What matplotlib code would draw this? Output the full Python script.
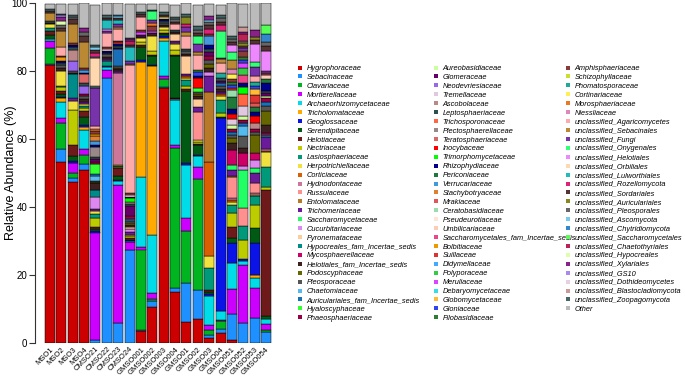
import numpy as np
import matplotlib
matplotlib.use("Agg")
import matplotlib.pyplot as plt
from matplotlib.lines import Line2D

plt.rcParams['font.family'] = ['Liberation Sans', 'DejaVu Sans']

samples = ['MSO1', 'MSO2', 'MSO3', 'MSO4', 'CMSO21', 'CMSO22', 'CMSO23', 'CMSO24',
           'GMSO001', 'GMSO002', 'GMSO003', 'GMSO004', 'GMSO01', 'GMSO02', 'GMSO03', 'GMSO04',
           'GMSO051', 'GMSO052', 'GMSO053', 'GMSO054']

taxa = ['Hygrophoraceae', 'Sebacinaceae', 'Clavariaceae', 'Mortierellaceae', 'Archaeorhizomycetaceae',
        'Tricholomataceae', 'Geoglossaceae', 'Serendipitaceae', 'Helotiaceae', 'Nectriaceae',
        'Lasiosphaeriaceae', 'Herpotrichiellaceae', 'Corticiaceae', 'Hydnodontaceae', 'Russulaceae',
        'Entolomataceae', 'Trichomeriaceae', 'Saccharomycetaceae', 'Cucurbitariaceae', 'Pyronemataceae',
        'Hypocreales_fam_Incertae_sedis', 'Mycosphaerellaceae', 'Helotiales_fam_Incertae_sedis',
        'Podoscyphaceae', 'Pleosporaceae', 'Chaetomiaceae', 'Auriculariales_fam_Incertae_sedis',
        'Hyaloscyphaceae', 'Phaeosphaeriaceae',
        'Aureobasidiaceae', 'Glomeraceae', 'Neodevriesiaceae', 'Tremellaceae', 'Ascobolaceae',
        'Leptosphaeriaceae', 'Trichosporonaceae', 'Plectosphaerellaceae', 'Teratosphaeriaceae',
        'Inocybaceae', 'Trimorphomycetaceae', 'Rhizophydiaceae', 'Periconiaceae', 'Verrucariaceae',
        'Stachybotryaceae', 'Mrakiaceae', 'Ceratobasidiaceae', 'Pseudeurotiaceae', 'Umbilicariaceae',
        'Saccharomycetales_fam_Incertae_sedis', 'Bolbitiaceae', 'Suillaceae', 'Didymellaceae',
        'Polyporaceae', 'Meruliaceae', 'Debaryomycetaceae', 'Globomycetaceae', 'Gloniaceae',
        'Filobasidiaceae',
        'Amphisphaeriaceae', 'Schizophyllaceae', 'Phomatosporaceae', 'Cortinariaceae',
        'Morosphaeriaceae', 'Niessliaceae', 'unclassified_Agaricomycetes', 'unclassified_Sebacinales',
        'unclassified_Fungi', 'unclassified_Onygenales', 'unclassified_Helotiales',
        'unclassified_Orbiliales', 'unclassified_Lulworthiales', 'unclassified_Rozellomycota',
        'unclassified_Sordariales', 'unclassified_Auriculariales', 'unclassified_Pleosporales',
        'unclassified_Ascomycota', 'unclassified_Chytridiomycota', 'unclassified_Saccharomycetales',
        'unclassified_Chaetothyriales', 'unclassified_Hypocreales', 'unclassified_Xylariales',
        'unclassified_GS10', 'unclassified_Dothideomycetes', 'unclassified_Blastocladiomycota',
        'unclassified_Zoopagomycota', 'Other']

palette = ['#CC0000', '#1E90FF', '#00B520', '#CC00FF', '#00DDE8', '#FFAA00', '#0A14E6', '#005A14',
           '#6E1A1A', '#BCCC00', '#00997A', '#F0E040', '#D95F02', '#CC7799', '#FF9090', '#B87A2A',
           '#6A1B9A', '#22FF66', '#DD88EE', '#FFCC99', '#008B8B', '#CC0066', '#3D2020', '#666600',
           '#555555', '#55BBEE', '#1A70B8', '#33FF33', '#990044',
           '#CCFF99', '#660066', '#9966EE', '#E0C8E0', '#BB8888', '#2F4F4F', '#FF6644', '#998888',
           '#DD6666', '#FF0000', '#00FF00', '#000088', '#1F7A3A', '#4499DD', '#E08030', '#E05555',
           '#99DDAA', '#FFE4D8', '#FFCBB8', '#EE4488', '#EE9900', '#DD3333', '#44AAFF', '#33CC44',
           '#DD44FF', '#33DDEE', '#FFBB33', '#3344EE', '#2E7D32',
           '#8B3A3A', '#CCDD33', '#22AA99', '#FFEE55', '#EE7722', '#DD88BB', '#FFAAAA', '#BB8833',
           '#7733AA', '#33FF77', '#EE88FF', '#FFD8B0', '#22BBBB', '#DD2277', '#553333', '#888822',
           '#666666', '#77CCEE', '#3388CC', '#55FF55', '#BB2255', '#DDFFAA', '#882288', '#AA88EE',
           '#E8D0E0', '#CC9999', '#446666', '#BBBBBB']

# relative abundance (%) per sample
mso1 = {'Hygrophoraceae': 81.8, 'Sebacinaceae': 0.4, 'Clavariaceae': 4.6, 'Mortierellaceae': 2.0,
        'Archaeorhizomycetaceae': 0.7, 'Serendipitaceae': 1.0, 'Helotiaceae': 1.3,
        'Lasiosphaeriaceae': 0.8, 'Herpotrichiellaceae': 1.2, 'Helotiales_fam_Incertae_sedis': 0.4,
        'Leptosphaeriaceae': 0.4, 'unclassified_Sebacinales': 2.6, 'unclassified_Sordariales': 0.5,
        'unclassified_Zoopagomycota': 0.5, 'Other': 1.6}
mso2 = {'Hygrophoraceae': 53.1, 'Sebacinaceae': 4.1, 'Clavariaceae': 7.4, 'Mortierellaceae': 1.5,
        'Archaeorhizomycetaceae': 4.9, 'Tricholomataceae': 1.0, 'Geoglossaceae': 0.3,
        'Serendipitaceae': 0.8, 'Helotiaceae': 1.0, 'Nectriaceae': 1.1, 'Lasiosphaeriaceae': 0.4,
        'Herpotrichiellaceae': 4.4, 'Helotiales_fam_Incertae_sedis': 1.0, 'Pleosporaceae': 0.8,
        'Leptosphaeriaceae': 0.6, 'Rhizophydiaceae': 0.5, 'Bolbitiaceae': 1.3, 'Amphisphaeriaceae': 0.3,
        'unclassified_Agaricomycetes': 2.6, 'unclassified_Sebacinales': 4.7,
        'unclassified_Sordariales': 0.9, 'unclassified_Pleosporales': 0.8,
        'unclassified_Hypocreales': 1.3, 'unclassified_Xylariales': 1.0, 'unclassified_GS10': 0.7,
        'unclassified_Zoopagomycota': 0.3, 'Other': 2.9}
mso3 = {'Hygrophoraceae': 47.5, 'Sebacinaceae': 1.0, 'Clavariaceae': 1.5, 'Mortierellaceae': 2.9,
        'Geoglossaceae': 0.5, 'Serendipitaceae': 1.5, 'Helotiaceae': 3.4, 'Nectriaceae': 10.3,
        'Herpotrichiellaceae': 2.5, 'Trichomeriaceae': 1.0, 'Hypocreales_fam_Incertae_sedis': 6.9,
        'Helotiales_fam_Incertae_sedis': 0.5, 'Pleosporaceae': 0.5, 'Neodevriesiaceae': 2.9,
        'Ascobolaceae': 3.4, 'Leptosphaeriaceae': 0.7, 'Rhizophydiaceae': 0.6, 'Amphisphaeriaceae': 0.7,
        'unclassified_Sebacinales': 5.4, 'unclassified_Sordariales': 1.5,
        'unclassified_Pleosporales': 0.7, 'unclassified_Zoopagomycota': 0.7, 'Other': 3.2}
mso4 = {'Hygrophoraceae': 50.9, 'Sebacinaceae': 1.8, 'Clavariaceae': 2.5, 'Mortierellaceae': 2.0,
        'Archaeorhizomycetaceae': 5.4, 'Tricholomataceae': 1.0, 'Geoglossaceae': 0.5,
        'Serendipitaceae': 2.5, 'Helotiaceae': 1.5, 'Nectriaceae': 1.0, 'Lasiosphaeriaceae': 0.5,
        'Herpotrichiellaceae': 0.8, 'Trichomeriaceae': 0.6, 'Helotiales_fam_Incertae_sedis': 0.8,
        'Pleosporaceae': 0.8, 'Phaeosphaeriaceae': 0.5, 'Neodevriesiaceae': 2.5,
        'Leptosphaeriaceae': 0.8, 'Teratosphaeriaceae': 2.6, 'Rhizophydiaceae': 0.5,
        'Verrucariaceae': 0.8, 'Amphisphaeriaceae': 0.7, 'unclassified_Sebacinales': 7.4,
        'unclassified_Sordariales': 2.0, 'unclassified_Pleosporales': 1.0,
        'unclassified_Xylariales': 1.2, 'Other': 7.5}
cmso21 = {'Sebacinaceae': 0.8, 'Mortierellaceae': 31.7, 'Geoglossaceae': 0.5, 'Serendipitaceae': 0.5,
          'Helotiaceae': 0.5, 'Nectriaceae': 2.9, 'Lasiosphaeriaceae': 1.0, 'Herpotrichiellaceae': 1.0,
          'Trichomeriaceae': 0.5, 'Cucurbitariaceae': 3.6, 'Hypocreales_fam_Incertae_sedis': 2.0,
          'Helotiales_fam_Incertae_sedis': 2.0, 'Podoscyphaceae': 0.4, 'Pleosporaceae': 0.3,
          'Chaetomiaceae': 1.5, 'Auriculariales_fam_Incertae_sedis': 0.5, 'Hyaloscyphaceae': 2.9,
          'Phaeosphaeriaceae': 0.7, 'Glomeraceae': 0.7, 'Leptosphaeriaceae': 0.7,
          'Plectosphaerellaceae': 3.0, 'Rhizophydiaceae': 0.6, 'Verrucariaceae': 1.1,
          'Stachybotryaceae': 1.5, 'Bolbitiaceae': 0.7, 'Amphisphaeriaceae': 0.7,
          'Morosphaeriaceae': 0.6, 'unclassified_Agaricomycetes': 1.0, 'unclassified_Fungi': 11.2,
          'unclassified_Onygenales': 0.3, 'unclassified_Helotiales': 0.3,
          'unclassified_Orbiliales': 8.0, 'unclassified_Lulworthiales': 0.5,
          'unclassified_Rozellomycota': 1.2, 'unclassified_Sordariales': 0.8,
          'unclassified_Ascomycota': 1.0, 'unclassified_Zoopagomycota': 0.5, 'Other': 11.8}
cmso22 = {'Sebacinaceae': 77.8, 'Mortierellaceae': 2.6, 'Archaeorhizomycetaceae': 0.7,
          'Geoglossaceae': 0.3, 'Lasiosphaeriaceae': 1.5, 'Trichomeriaceae': 0.6,
          'Helotiales_fam_Incertae_sedis': 0.7, 'Pleosporaceae': 0.7, 'Leptosphaeriaceae': 0.5,
          'Rhizophydiaceae': 0.5, 'Pseudeurotiaceae': 0.7, 'Amphisphaeriaceae': 0.5,
          'unclassified_Agaricomycetes': 4.2, 'unclassified_Fungi': 0.5, 'unclassified_Helotiales': 0.5,
          'unclassified_Lulworthiales': 2.6, 'unclassified_Sordariales': 0.8,
          'unclassified_Zoopagomycota': 0.8, 'Other': 3.4}
cmso23 = {'Sebacinaceae': 5.8, 'Mortierellaceae': 40.7, 'Archaeorhizomycetaceae': 1.2,
          'Geoglossaceae': 0.3, 'Serendipitaceae': 1.0, 'Helotiaceae': 2.5, 'Nectriaceae': 0.3,
          'Lasiosphaeriaceae': 0.3, 'Herpotrichiellaceae': 0.4, 'Hydnodontaceae': 27.0,
          'Trichomeriaceae': 0.5, 'Helotiales_fam_Incertae_sedis': 0.5, 'Podoscyphaceae': 0.5,
          'Pleosporaceae': 0.5, 'Auriculariales_fam_Incertae_sedis': 4.9, 'Glomeraceae': 0.5,
          'Leptosphaeriaceae': 0.5, 'Rhizophydiaceae': 0.5, 'Suillaceae': 0.5, 'Amphisphaeriaceae': 0.5,
          'unclassified_Agaricomycetes': 3.4, 'unclassified_Sebacinales': 0.5, 'unclassified_Fungi': 1.0,
          'unclassified_Lulworthiales': 1.3, 'unclassified_Sordariales': 0.5,
          'unclassified_Ascomycota': 0.5, 'unclassified_Chytridiomycota': 0.5, 'Other': 3.5}
cmso24 = {'Sebacinaceae': 27.4, 'Mortierellaceae': 2.2, 'Archaeorhizomycetaceae': 0.3,
          'Geoglossaceae': 0.4, 'Helotiaceae': 0.7, 'Nectriaceae': 0.6, 'Herpotrichiellaceae': 0.3,
          'Trichomeriaceae': 0.7, 'Cucurbitariaceae': 1.0, 'Pyronemataceae': 0.4,
          'Helotiales_fam_Incertae_sedis': 0.7, 'Podoscyphaceae': 0.6, 'Pleosporaceae': 0.6,
          'Auriculariales_fam_Incertae_sedis': 0.7, 'Phaeosphaeriaceae': 0.7, 'Glomeraceae': 3.0,
          'Leptosphaeriaceae': 0.6, 'Plectosphaerellaceae': 0.6, 'Trimorphomycetaceae': 1.0,
          'Rhizophydiaceae': 0.5, 'Pseudeurotiaceae': 0.5, 'Amphisphaeriaceae': 0.5,
          'unclassified_Agaricomycetes': 37.7, 'unclassified_Sebacinales': 0.3, 'unclassified_Fungi': 1.0,
          'unclassified_Lulworthiales': 4.1, 'unclassified_Sordariales': 0.5,
          'unclassified_Chaetothyriales': 1.2, 'unclassified_Xylariales': 0.5,
          'unclassified_Zoopagomycota': 0.5, 'Other': 10.0}
gmso001 = {'Hygrophoraceae': 3.5, 'Sebacinaceae': 0.3, 'Clavariaceae': 23.7, 'Mortierellaceae': 0.8,
           'Archaeorhizomycetaceae': 20.6, 'Tricholomataceae': 33.8, 'Geoglossaceae': 0.5,
           'Serendipitaceae': 3.9, 'Helotiaceae': 0.5, 'Nectriaceae': 1.0, 'Herpotrichiellaceae': 1.0,
           'Trichomeriaceae': 0.5, 'Helotiales_fam_Incertae_sedis': 0.6, 'Meruliaceae': 0.8,
           'Amphisphaeriaceae': 0.6, 'unclassified_Agaricomycetes': 3.9,
           'unclassified_Sordariales': 0.7, 'unclassified_Zoopagomycota': 0.6, 'Other': 2.3}
gmso002 = {'Hygrophoraceae': 10.7, 'Sebacinaceae': 1.7, 'Clavariaceae': 0.5, 'Mortierellaceae': 1.8,
           'Archaeorhizomycetaceae': 17.2, 'Tricholomataceae': 49.5, 'Geoglossaceae': 0.5,
           'Serendipitaceae': 2.4, 'Helotiaceae': 0.5, 'Nectriaceae': 1.2, 'Herpotrichiellaceae': 4.4,
           'Helotiales_fam_Incertae_sedis': 0.7, 'Meruliaceae': 0.8, 'Amphisphaeriaceae': 1.2,
           'Morosphaeriaceae': 1.0, 'unclassified_Fungi': 1.0, 'unclassified_Onygenales': 2.5,
           'unclassified_Zoopagomycota': 0.4, 'Other': 1.6}
gmso003 = {'Hygrophoraceae': 75.0, 'Sebacinaceae': 0.3, 'Clavariaceae': 2.4, 'Mortierellaceae': 0.8,
           'Archaeorhizomycetaceae': 10.3, 'Tricholomataceae': 1.0, 'Geoglossaceae': 0.5,
           'Serendipitaceae': 0.5, 'Helotiaceae': 0.5, 'Nectriaceae': 0.8, 'Herpotrichiellaceae': 0.8,
           'Helotiales_fam_Incertae_sedis': 0.6, 'Pleosporaceae': 0.6, 'Leptosphaeriaceae': 0.6,
           'Rhizophydiaceae': 0.6, 'Cortinariaceae': 0.6, 'unclassified_Sordariales': 0.7,
           'unclassified_Zoopagomycota': 0.7, 'Other': 2.5}
gmso004 = {'Hygrophoraceae': 15.1, 'Sebacinaceae': 1.0, 'Clavariaceae': 41.2, 'Mortierellaceae': 1.0,
           'Archaeorhizomycetaceae': 13.2, 'Tricholomataceae': 0.3, 'Geoglossaceae': 0.2,
           'Serendipitaceae': 12.3, 'Helotiaceae': 0.5, 'Nectriaceae': 1.5, 'Herpotrichiellaceae': 1.5,
           'Hydnodontaceae': 0.5, 'Trichomeriaceae': 0.5, 'Pyronemataceae': 2.0,
           'Helotiales_fam_Incertae_sedis': 0.6, 'Leptosphaeriaceae': 0.6,
           'unclassified_Agaricomycetes': 1.8, 'unclassified_Sordariales': 0.7,
           'unclassified_Pleosporales': 0.7, 'unclassified_Zoopagomycota': 0.7, 'Other': 3.5}
gmso01 = {'Hygrophoraceae': 6.3, 'Sebacinaceae': 11.3, 'Clavariaceae': 15.2, 'Mortierellaceae': 3.9,
          'Archaeorhizomycetaceae': 15.7, 'Geoglossaceae': 0.5, 'Serendipitaceae': 21.1,
          'Helotiaceae': 0.7, 'Nectriaceae': 0.8, 'Lasiosphaeriaceae': 2.0, 'Herpotrichiellaceae': 0.5,
          'Corticiaceae': 0.5, 'Trichomeriaceae': 0.5, 'Pyronemataceae': 5.4,
          'Helotiales_fam_Incertae_sedis': 0.7, 'Pleosporaceae': 0.7, 'Leptosphaeriaceae': 0.6,
          'unclassified_Agaricomycetes': 3.9, 'unclassified_Sebacinales': 1.2, 'unclassified_Fungi': 1.3,
          'unclassified_Rozellomycota': 1.0, 'unclassified_Auriculariales': 2.0,
          'unclassified_Zoopagomycota': 1.0, 'Other': 3.2}
gmso02 = {'Hygrophoraceae': 7.0, 'Sebacinaceae': 8.6, 'Clavariaceae': 32.5, 'Mortierellaceae': 3.6,
          'Archaeorhizomycetaceae': 3.2, 'Geoglossaceae': 0.3, 'Serendipitaceae': 2.9,
          'Helotiaceae': 0.5, 'Nectriaceae': 0.5, 'Herpotrichiellaceae': 0.5, 'Russulaceae': 8.3,
          'Trichomeriaceae': 1.5, 'Pyronemataceae': 2.5, 'Helotiales_fam_Incertae_sedis': 0.7,
          'Podoscyphaceae': 0.6, 'Pleosporaceae': 0.7, 'Hyaloscyphaceae': 1.0, 'Inocybaceae': 2.9,
          'Rhizophydiaceae': 0.8, 'Gloniaceae': 1.0, 'Filobasidiaceae': 0.7,
          'unclassified_Agaricomycetes': 4.4, 'unclassified_Sebacinales': 1.0, 'unclassified_Fungi': 2.2,
          'unclassified_Onygenales': 2.5, 'unclassified_Sordariales': 0.9,
          'unclassified_Pleosporales': 0.9, 'unclassified_Zoopagomycota': 0.9, 'Other': 6.3}
gmso03 = {'Hygrophoraceae': 1.4, 'Sebacinaceae': 1.0, 'Clavariaceae': 1.5, 'Mortierellaceae': 1.5,
          'Archaeorhizomycetaceae': 8.3, 'Geoglossaceae': 0.6, 'Serendipitaceae': 0.7,
          'Helotiaceae': 0.7, 'Lasiosphaeriaceae': 6.4, 'Herpotrichiellaceae': 3.6,
          'Corticiaceae': 27.5, 'Entolomataceae': 20.5, 'Trichomeriaceae': 4.9, 'Cucurbitariaceae': 1.0,
          'Helotiales_fam_Incertae_sedis': 1.2, 'Podoscyphaceae': 1.2, 'Pleosporaceae': 1.2,
          'Phaeosphaeriaceae': 1.2, 'Glomeraceae': 1.1, 'Leptosphaeriaceae': 1.0, 'Rhizophydiaceae': 1.0,
          'Verrucariaceae': 2.9, 'Amphisphaeriaceae': 0.5, 'unclassified_Rozellomycota': 1.5,
          'unclassified_Sordariales': 1.0, 'unclassified_Pleosporales': 1.0,
          'unclassified_Ascomycota': 0.6, 'unclassified_Xylariales': 1.2, 'Other': 3.5}
gmso04 = {'Hygrophoraceae': 2.8, 'Sebacinaceae': 1.2, 'Clavariaceae': 2.5, 'Mortierellaceae': 0.3,
          'Archaeorhizomycetaceae': 2.5, 'Geoglossaceae': 56.9, 'Serendipitaceae': 0.3,
          'Nectriaceae': 1.2, 'Lasiosphaeriaceae': 3.9, 'Herpotrichiellaceae': 1.0, 'Corticiaceae': 0.5,
          'Trichomeriaceae': 0.8, 'Helotiales_fam_Incertae_sedis': 0.8, 'Pleosporaceae': 0.8,
          'Auriculariales_fam_Incertae_sedis': 1.0, 'Glomeraceae': 0.7, 'Leptosphaeriaceae': 0.8,
          'Phomatosporaceae': 1.5, 'unclassified_Agaricomycetes': 2.9, 'unclassified_Sebacinales': 1.0,
          'unclassified_Fungi': 0.5, 'unclassified_Onygenales': 8.0, 'unclassified_Rozellomycota': 1.6,
          'unclassified_Sordariales': 1.0, 'unclassified_Pleosporales': 1.0,
          'unclassified_Zoopagomycota': 0.9, 'Other': 2.9}
gmso051 = {'Hygrophoraceae': 0.9, 'Sebacinaceae': 7.6, 'Mortierellaceae': 7.5,
           'Archaeorhizomycetaceae': 7.4, 'Geoglossaceae': 5.9, 'Serendipitaceae': 1.5,
           'Helotiaceae': 3.4, 'Nectriaceae': 3.9, 'Lasiosphaeriaceae': 2.5, 'Herpotrichiellaceae': 1.0,
           'Corticiaceae': 0.5, 'Hydnodontaceae': 0.5, 'Entolomataceae': 0.5, 'Russulaceae': 6.1,
           'Trichomeriaceae': 1.6, 'Saccharomycetaceae': 1.7, 'Mycosphaerellaceae': 4.4,
           'Helotiales_fam_Incertae_sedis': 2.0, 'Podoscyphaceae': 1.5, 'Pleosporaceae': 0.8,
           'Auriculariales_fam_Incertae_sedis': 0.8, 'Phaeosphaeriaceae': 0.9, 'Aureobasidiaceae': 1.2,
           'Tremellaceae': 1.8, 'Inocybaceae': 1.5, 'Rhizophydiaceae': 1.5, 'Periconiaceae': 3.4,
           'Ceratobasidiaceae': 2.0, 'Suillaceae': 0.8, 'Gloniaceae': 0.8, 'Filobasidiaceae': 0.9,
           'Amphisphaeriaceae': 0.9, 'Cortinariaceae': 1.5, 'Niessliaceae': 1.5,
           'unclassified_Sebacinales': 2.5, 'unclassified_Onygenales': 2.5, 'unclassified_Helotiales': 2.0,
           'unclassified_Sordariales': 0.8, 'unclassified_Pleosporales': 0.9,
           'unclassified_Zoopagomycota': 0.8, 'Other': 9.9}
gmso052 = {'Sebacinaceae': 5.8, 'Mortierellaceae': 17.2, 'Archaeorhizomycetaceae': 1.0,
           'Geoglossaceae': 0.7, 'Nectriaceae': 5.5, 'Lasiosphaeriaceae': 4.1, 'Russulaceae': 5.4,
           'Saccharomycetaceae': 11.1, 'Cucurbitariaceae': 1.2, 'Mycosphaerellaceae': 3.9,
           'Helotiales_fam_Incertae_sedis': 1.5, 'Pleosporaceae': 3.4, 'Chaetomiaceae': 2.9,
           'Auriculariales_fam_Incertae_sedis': 1.0, 'Phaeosphaeriaceae': 1.0, 'Aureobasidiaceae': 1.0,
           'Tremellaceae': 2.9, 'Trichosporonaceae': 3.7, 'Trimorphomycetaceae': 2.0,
           'Rhizophydiaceae': 1.2, 'Saccharomycetales_fam_Incertae_sedis': 2.2, 'Polyporaceae': 2.3,
           'Meruliaceae': 1.5, 'Gloniaceae': 0.7, 'Filobasidiaceae': 0.8, 'Amphisphaeriaceae': 2.0,
           'unclassified_Fungi': 0.7, 'unclassified_Sordariales': 0.8, 'unclassified_Auriculariales': 0.7,
           'unclassified_Pleosporales': 0.7, 'unclassified_Chaetothyriales': 2.0,
           'unclassified_Xylariales': 0.5, 'unclassified_Blastocladiomycota': 1.5, 'Other': 6.7}
gmso053 = {'Sebacinaceae': 7.3, 'Mortierellaceae': 8.8, 'Archaeorhizomycetaceae': 2.9,
           'Tricholomataceae': 1.0, 'Geoglossaceae': 9.5, 'Serendipitaceae': 4.2, 'Nectriaceae': 6.9,
           'Lasiosphaeriaceae': 2.5, 'Herpotrichiellaceae': 0.5, 'Hydnodontaceae': 0.5,
           'Russulaceae': 2.9, 'Trichomeriaceae': 3.1, 'Saccharomycetaceae': 1.3,
           'Cucurbitariaceae': 2.3, 'Mycosphaerellaceae': 2.2, 'Podoscyphaceae': 5.4,
           'Pleosporaceae': 0.8, 'Phaeosphaeriaceae': 0.7, 'Ascobolaceae': 1.8, 'Inocybaceae': 2.2,
           'Rhizophydiaceae': 1.2, 'Periconiaceae': 1.3, 'Mrakiaceae': 1.3, 'Suillaceae': 2.2,
           'Gloniaceae': 1.0, 'Globomycetaceae': 1.8, 'Phomatosporaceae': 1.2,
           'unclassified_Agaricomycetes': 1.8, 'unclassified_Fungi': 2.6, 'unclassified_Onygenales': 1.5,
           'unclassified_Helotiales': 5.1, 'unclassified_Sordariales': 1.3,
           'unclassified_Auriculariales': 1.0, 'unclassified_Xylariales': 2.0, 'Other': 8.1}
gmso054 = {'Sebacinaceae': 3.3, 'Clavariaceae': 0.5, 'Mortierellaceae': 1.8,
           'Archaeorhizomycetaceae': 1.4, 'Serendipitaceae': 1.0, 'Helotiaceae': 37.1,
           'Nectriaceae': 0.8, 'Lasiosphaeriaceae': 5.9, 'Herpotrichiellaceae': 4.3, 'Corticiaceae': 0.5,
           'Hydnodontaceae': 0.5, 'Trichomeriaceae': 3.5, 'Hypocreales_fam_Incertae_sedis': 0.6,
           'Mycosphaerellaceae': 0.6, 'Helotiales_fam_Incertae_sedis': 2.2, 'Podoscyphaceae': 4.2,
           'Pleosporaceae': 1.4, 'Auriculariales_fam_Incertae_sedis': 1.2, 'Phaeosphaeriaceae': 1.3,
           'Aureobasidiaceae': 0.5, 'Glomeraceae': 0.8, 'Leptosphaeriaceae': 0.7, 'Rhizophydiaceae': 2.5,
           'Periconiaceae': 1.0, 'Umbilicariaceae': 1.2, 'Amphisphaeriaceae': 0.7,
           'unclassified_Fungi': 0.6, 'unclassified_Helotiales': 5.9, 'unclassified_Sordariales': 1.3,
           'unclassified_Pleosporales': 1.2, 'unclassified_Chytridiomycota': 2.5,
           'unclassified_Saccharomycetales': 2.6, 'Other': 6.5}

compositions = [mso1, mso2, mso3, mso4, cmso21, cmso22, cmso23, cmso24,
                gmso001, gmso002, gmso003, gmso004, gmso01, gmso02, gmso03, gmso04,
                gmso051, gmso052, gmso053, gmso054]

abund = np.array([[c.get(t, 0.0) for c in compositions] for t in taxa])

W, H = 685, 384
fig = plt.figure(figsize=(W / 100, H / 100), dpi=100)
ax = fig.add_axes([35 / W, 41 / H, 240 / W, 340 / H])

x = np.arange(len(samples))
bottom = np.zeros(len(samples))
for i, t in enumerate(taxa):
    h = abund[i]
    m = h > 0
    if m.any():
        ax.bar(x[m], h[m], bottom=bottom[m], width=0.88, color=palette[i],
               edgecolor='black', linewidth=0.35)
    bottom += h

ax.set_xlim(-1.32, 19.79)
ax.set_ylim(0, 100)
for s in ['top', 'right', 'bottom']:
    ax.spines[s].set_visible(False)
ax.spines['left'].set_linewidth(0.8)
ax.spines['left'].set_color('#333333')
ax.set_yticks(range(0, 101, 20))
ax.tick_params(axis='y', length=4, width=0.8, color='#333333', labelsize=7, pad=1.5)
ax.set_xticks(x)
ax.set_xticklabels(samples, rotation=45, ha='right', va='top', rotation_mode='anchor', fontsize=5.5)
ax.tick_params(axis='x', length=0, pad=2)
ax.set_ylabel('Relative Abundance (%)', fontsize=9)
ax.yaxis.set_label_coords(-0.075, 0.5)

# three legend columns at fixed positions
handles = [Line2D([], [], marker='s', linestyle='none', markersize=3.0,
                  markerfacecolor=c, markeredgewidth=0) for c in palette]
cols = [(0, 29, 298), (29, 58, 434), (58, 86, 566)]
for a, b, xp in cols:
    fig.legend(handles[a:b], taxa[a:b], loc='upper left',
               bbox_to_anchor=(xp / W, 1 - 65 / H), frameon=False,
               prop={'style': 'italic', 'size': 5.3}, handlelength=0.6,
               handletextpad=0.55, labelspacing=0.24, borderpad=0, borderaxespad=0)

fig.savefig('out.png', dpi=100)
